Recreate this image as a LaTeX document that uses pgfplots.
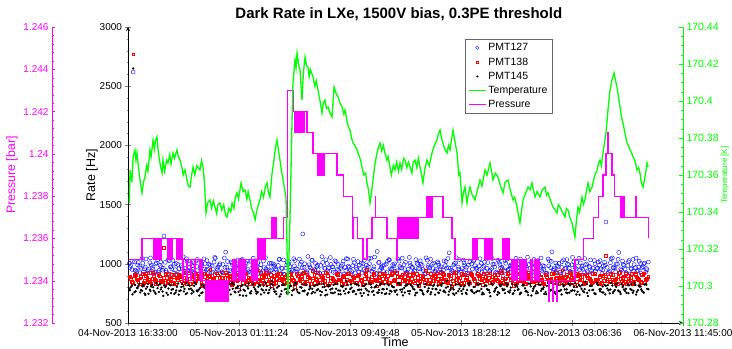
\documentclass[border=0pt]{standalone}
\usepackage{fontspec}
\setmainfont{Liberation Sans}
\usepackage{pgfplots}
\pgfplotsset{compat=1.18}
\usepackage{pgfplotstable}
\definecolor{mgreen}{RGB}{0,255,0}
\definecolor{mmag}{RGB}{255,0,255}
\definecolor{mblue}{RGB}{0,0,255}
\definecolor{mred}{RGB}{255,0,0}

\pgfplotstableread{
h b r k
0.2 985 872 801
0.4 2620 2770 2650
0.6 941 905 768
0.8 1012 851 812
1.0 963 889 779
1.2 928 842 825
1.4 1041 917 790
1.6 952 868 746
1.8 990 830 808
2.0 917 899 773
2.2 1008 861 836
2.4 944 921 762
2.6 975 847 799
2.8 1235 1135 817
3.0 931 884 754
3.2 1026 856 828
3.4 958 910 781
3.6 997 839 745
3.8 912 878 806
4.0 1053 902 771
4.2 969 853 830
4.4 936 926 788
4.6 1019 866 752
4.8 947 835 815
5.0 984 896 776
5.2 925 858 841
5.4 1037 914 767
5.6 961 874 795
5.8 903 812 759
6.0 1002 891 822
6.2 955 847 784
6.4 989 948 728
6.6 930 869 809
6.8 1046 838 772
7.0 972 903 833
7.2 918 855 790
7.4 994 881 756
7.6 1098 927 818
7.8 943 845 777
8.0 1016 893 741
8.2 950 862 826
8.4 982 908 794
8.6 921 806 763
8.8 1031 876 811
9.0 964 919 780
9.2 999 850 731
9.4 934 887 835
9.6 1022 868 769
9.8 957 831 802
10.0 985 952 748
10.2 915 857 824
10.4 1048 894 786
10.6 968 841 757
10.8 937 923 812
11.0 1005 863 779
11.2 948 814 853
11.4 992 899 765
11.6 926 871 799
11.8 1039 916 724
12.0 960 852 821
12.2 909 884 783
12.4 1011 838 747
12.6 976 907 815
12.8 941 866 774
13.0 1027 809 838
13.2 953 895 761
13.4 996 858 803
13.6 1252 920 770
13.8 929 847 827
14.0 1062 889 752
14.2 966 835 796
14.4 938 941 764
14.6 1003 873 819
14.8 951 844 785
15.0 987 904 736
15.2 919 861 831
15.4 1034 926 777
15.6 962 819 808
15.8 995 882 756
16.0 927 855 822
16.2 1018 915 789
16.4 946 869 743
16.6 981 832 812
16.8 913 898 771
17.0 1044 864 856
17.2 970 921 760
17.4 935 848 798
17.6 1009 886 768
17.8 956 837 825
18.0 990 909 782
18.2 922 859 729
18.4 1029 877 814
18.6 963 952 776
18.8 1001 843 840
19.0 931 893 763
19.2 1057 866 801
19.4 1104 810 757
19.6 949 913 819
19.8 983 872 786
20.0 916 851 745
20.2 1021 901 828
20.4 958 840 773
20.6 993 924 806
20.8 936 867 762
21.0 1040 833 834
21.2 967 890 781
21.4 907 856 733
21.6 1013 918 816
21.8 954 874 769
22.0 986 846 823
22.2 924 905 788
22.4 1035 862 755
22.6 961 818 810
22.8 998 897 778
23.0 940 869 742
23.2 1050 945 829
23.4 972 843 794
23.6 918 886 760
23.8 1007 858 820
24.0 952 920 785
24.2 988 835 753
24.4 929 879 813
24.6 1025 908 774
24.8 965 851 857
25.0 1093 896 766
25.2 944 808 800
25.4 1002 925 738
25.6 933 864 826
25.8 1036 881 789
26.0 959 842 747
26.2 991 912 815
26.4 920 870 779
26.6 1016 836 842
26.8 955 901 764
27.0 984 859 805
27.2 911 917 771
27.4 1043 875 831
27.6 969 822 756
27.8 937 894 818
28.0 1010 862 782
28.2 948 921 726
28.4 996 849 824
28.6 925 887 790
28.8 1030 856 761
29.0 964 940 811
29.2 903 840 777
29.4 1004 878 838
29.6 953 923 765
29.8 989 861 799
30.0 932 814 751
30.2 1047 899 827
30.4 971 868 786
30.6 939 911 755
30.8 1012 845 817
31.0 957 883 772
31.2 994 927 833
31.4 917 852 732
31.6 1038 873 804
31.8 962 837 768
32.0 1000 906 822
32.2 943 864 788
32.4 979 829 746
32.6 921 892 813
32.8 1026 870 779
33.0 1101 918 840
33.2 950 848 762
33.4 985 885 803
33.6 928 857 770
33.8 1019 946 826
34.0 960 839 784
34.2 997 876 752
34.4 935 922 818
34.6 1054 863 776
34.8 968 811 835
35.0 914 897 764
35.2 1008 866 809
35.4 954 912 771
35.6 992 843 848
35.8 926 880 728
36.0 1033 854 815
36.2 963 919 781
36.4 940 868 744
36.6 1015 836 823
36.8 957 903 787
37.0 983 860 757
37.2 1353 1067 814
37.4 930 888 775
37.6 1042 916 839
37.8 966 846 766
38.0 999 877 806
38.2 1096 924 769
38.4 945 853 827
38.6 988 895 783
38.8 923 834 754
39.0 1028 871 817
39.2 956 915 779
39.4 993 849 841
39.6 938 886 763
39.8 1021 862 808
40.0 965 907 772
40.2 1006 841 825
40.4 949 879 789
}\ratetable

\pgfplotstableread{
h b r k
0.1 1003 887 784
0.3 952 846 815
0.5 1018 901 760
0.7 936 869 797
0.9 977 828 832
1.1 1045 914 772
1.3 958 857 749
1.5 921 883 806
1.7 1009 845 781
1.9 969 928 823
2.1 930 866 758
2.3 1035 837 794
2.5 987 895 827
2.7 946 860 766
2.9 1012 919 803
3.1 905 848 739
3.3 973 876 818
3.5 1029 833 786
3.7 951 907 757
3.9 994 864 834
4.1 927 889 775
4.3 1058 842 809
4.5 964 923 744
4.7 1001 871 821
4.9 939 829 790
5.1 983 910 763
5.3 1024 855 829
5.5 916 887 781
5.7 970 840 752
5.9 1042 918 812
6.1 948 861 773
6.3 997 897 836
6.5 925 833 760
6.7 1015 879 802
6.9 960 921 747
7.1 989 851 825
7.3 933 885 787
7.5 1049 839 756
7.7 971 911 818
7.9 910 868 779
8.1 1006 826 840
8.3 957 903 764
8.5 993 857 800
8.7 941 891 735
8.9 1037 843 819
9.1 966 916 772
9.3 919 862 808
9.5 1021 835 754
9.7 978 900 830
9.9 945 873 785
10.1 1011 848 761
10.3 962 925 816
10.5 932 856 776
10.7 1052 888 838
10.9 974 831 751
11.1 939 906 797
11.3 1000 867 823
11.5 955 841 766
11.7 986 914 810
11.9 918 878 742
12.1 1033 850 827
12.3 965 894 788
12.5 998 827 758
12.7 927 917 813
12.9 1043 860 780
13.1 959 839 835
13.3 914 899 755
13.5 1014 876 799
13.7 970 922 768
13.9 935 853 822
14.1 992 884 784
14.3 1030 830 750
14.5 949 908 812
14.7 978 868 776
14.9 920 843 833
15.1 1060 896 762
15.3 963 859 805
15.5 1002 920 740
15.7 937 836 817
15.9 975 880 791
16.1 1026 852 758
16.3 953 911 829
16.5 912 863 773
16.7 995 887 806
16.9 968 834 748
17.1 1040 917 821
17.3 947 855 786
17.5 985 895 763
17.7 923 840 831
17.9 1019 902 779
18.1 960 868 752
18.3 1001 826 815
18.5 940 919 790
18.7 976 877 737
18.9 1048 848 825
19.1 955 906 771
19.3 917 862 809
19.5 1010 885 757
19.7 971 838 834
19.9 934 914 785
20.1 997 870 750
20.3 1036 845 819
20.5 951 903 766
20.7 982 858 802
20.9 924 926 778
21.1 1022 834 839
21.3 963 892 761
21.5 993 866 797
21.7 929 847 818
21.9 1054 909 746
22.1 970 873 811
22.3 942 836 783
22.5 1004 918 756
22.7 958 860 828
22.9 987 889 772
23.1 915 842 805
23.3 1031 921 764
23.5 966 865 821
23.7 998 831 788
23.9 939 900 740
24.1 1017 874 815
24.3 957 850 777
24.5 921 913 834
24.7 984 867 759
24.9 1045 840 807
25.1 962 896 782
25.3 935 857 749
25.5 1008 924 826
25.7 973 878 769
25.9 926 835 812
26.1 1032 905 786
26.3 950 863 755
26.5 990 842 832
26.7 919 917 775
26.9 1024 871 804
27.1 964 829 761
27.3 943 898 823
27.5 1005 861 787
27.7 978 919 744
27.9 916 853 815
28.1 1050 884 778
28.3 960 838 836
28.5 996 910 765
28.7 931 869 800
28.9 1013 846 753
29.1 971 923 824
29.3 940 875 783
29.5 1039 833 810
29.7 955 902 757
29.9 988 858 829
30.1 922 887 774
30.3 1020 841 806
30.5 967 916 743
30.7 1000 866 818
30.9 937 832 792
31.1 1056 895 760
31.3 962 871 831
31.5 929 848 771
31.7 991 921 813
31.9 1027 857 754
32.1 952 883 822
32.3 984 836 786
32.5 918 907 762
32.7 1041 869 838
32.9 968 845 775
33.1 945 914 803
33.3 1006 878 748
33.5 975 830 827
33.7 913 900 780
33.9 1034 861 810
34.1 961 893 757
34.3 993 840 833
34.5 930 918 772
34.7 1016 874 806
34.9 957 851 741
35.1 1047 909 820
35.3 966 864 789
35.5 924 833 760
35.7 999 902 828
35.9 978 879 776
36.1 941 843 814
36.3 1028 919 752
36.5 958 860 837
36.7 989 889 784
36.9 920 837 759
37.1 1012 912 822
37.3 970 870 791
37.5 935 846 750
37.7 1050 905 817
37.9 963 867 779
38.1 996 832 835
38.3 927 923 762
38.5 1023 881 804
38.7 954 850 770
38.9 985 897 826
39.1 916 861 787
39.3 1037 835 756
39.5 969 914 821
39.7 944 873 778
39.9 1003 842 809
40.1 976 908 761
40.3 931 866 830
40.5 1015 889 785
}\ratetableb

\pgfplotstableread{
h b r k
0.15 968 893 776
0.35 1021 838 742
0.55 947 912 821
0.75 990 861 795
0.95 924 879 758
1.15 1006 822 809
1.35 972 897 737
1.55 939 850 830
1.75 1050 926 770
1.95 955 871 802
2.15 998 829 747
2.35 931 904 818
2.55 1015 858 783
2.75 962 882 729
2.95 944 840 813
3.15 1038 917 791
3.35 976 866 752
3.55 919 894 826
3.75 1003 827 775
3.95 958 909 740
4.15 985 853 804
4.35 927 880 767
4.55 1043 834 837
4.75 967 921 786
4.95 941 869 749
5.15 1010 846 815
5.35 978 901 774
5.55 913 878 732
5.75 995 823 823
5.95 956 915 796
6.15 1027 860 759
6.35 935 888 811
6.55 982 837 745
6.75 1054 906 828
6.95 949 851 780
7.15 1001 883 754
7.35 926 925 816
7.55 969 845 772
7.75 1019 872 739
7.95 942 898 825
8.15 987 832 789
8.35 961 916 758
8.55 1032 864 808
8.75 915 887 776
8.95 976 839 731
9.15 1008 920 820
9.35 953 855 792
9.55 929 876 750
9.75 1047 830 829
9.95 970 908 768
10.15 938 869 806
10.35 993 843 741
10.55 1024 896 815
10.75 957 924 779
10.95 921 852 755
11.15 1004 874 831
11.35 979 835 786
11.55 946 911 745
11.75 1036 862 812
11.95 963 890 770
12.15 911 828 823
12.35 990 905 759
12.55 1017 859 797
12.75 948 881 736
12.95 983 842 818
13.15 932 918 781
13.35 1040 867 753
13.55 966 893 827
13.75 1000 831 774
13.95 922 909 740
14.15 975 856 810
14.35 1029 879 788
14.55 951 838 757
14.75 989 922 821
14.95 917 863 769
15.15 1011 886 803
15.35 961 826 733
15.55 940 902 819
15.75 1053 858 783
15.95 972 876 751
16.15 928 841 830
16.35 997 914 775
16.55 960 868 742
16.75 1022 892 813
16.95 944 833 789
17.15 981 919 756
17.35 915 861 825
17.55 1038 883 771
17.75 969 845 744
17.95 930 904 816
18.15 1005 866 782
18.35 952 827 752
18.55 987 910 829
18.75 1044 873 766
18.95 938 848 801
19.15 976 921 737
19.35 918 858 818
19.55 1013 887 779
19.75 964 836 755
19.95 991 901 827
20.15 926 870 788
20.35 1031 842 746
20.55 957 917 811
20.75 1000 864 772
20.95 941 889 740
21.15 978 830 822
21.35 1048 908 784
21.55 950 853 757
21.75 921 880 826
21.95 1007 837 769
22.15 969 920 805
22.35 935 861 735
22.55 994 884 819
22.75 1025 846 780
22.95 954 902 751
23.15 913 868 830
23.35 986 832 774
23.55 1039 915 744
23.75 960 857 814
23.95 932 891 787
24.15 1003 839 756
24.35 975 923 823
24.55 945 870 767
24.75 1018 848 799
24.95 966 906 738
25.15 925 876 820
25.35 990 829 783
25.55 1051 897 753
25.75 956 860 828
25.95 940 918 771
26.15 1009 840 808
26.35 971 882 745
26.55 917 851 817
26.75 998 911 778
26.95 1032 869 752
27.15 951 833 831
27.35 984 903 770
27.55 928 877 742
27.75 1014 855 812
27.95 962 920 785
28.15 937 838 757
28.35 1045 889 824
28.55 973 862 773
28.75 920 906 739
28.95 995 843 819
29.15 958 879 788
29.35 1026 828 752
29.55 947 913 827
29.75 980 867 776
29.95 914 893 746
30.15 1002 835 815
30.35 967 919 781
30.55 1040 856 755
30.75 943 884 823
30.95 989 830 768
31.15 923 907 736
31.35 1012 871 810
31.55 965 847 789
31.75 936 917 750
31.95 997 863 828
32.15 1049 888 772
32.35 953 831 802
32.55 918 909 744
32.75 983 858 816
32.95 1020 876 780
33.15 959 840 753
33.35 934 922 826
33.55 1004 866 770
33.75 970 887 741
33.95 916 834 818
34.15 1035 905 784
34.35 961 850 757
34.55 992 880 829
34.75 927 827 773
34.95 1011 916 806
35.15 950 862 738
35.35 980 891 821
35.55 1044 838 786
35.75 939 908 754
35.95 973 873 814
36.15 921 845 779
36.35 1000 921 748
36.55 963 869 825
36.75 1027 832 768
36.95 946 900 809
37.15 988 878 742
37.35 919 853 820
37.55 1009 914 783
37.75 969 864 755
37.95 933 833 828
38.15 1038 894 774
38.35 957 871 745
38.55 994 842 813
38.75 925 918 789
38.95 1016 860 752
39.15 962 885 826
39.35 941 837 771
39.55 1048 906 740
39.75 972 868 817
39.95 918 849 784
40.15 999 920 756
40.35 960 874 822
}\ratetablec

\pgfplotsset{
  common/.style={
    at={(0,0)}, anchor=south west,
    scale only axis, width=555bp, height=296bp,
    xmin=0, xmax=43.2,
    /pgf/number format/assume math mode=true,
    tick align=inside,
    major tick length=5bp, minor tick length=2.5bp,
    axis line style={-, line width=0.8bp},
    ticklabel style={font=\fontsize{10bp}{12bp}\selectfont},
    scaled y ticks=false,
  },
  bluemk/.style={only marks, mark=o, mblue, mark size=2bp, mark options={line width=0.4bp}},
  redmk/.style={only marks, mark=square, mred, mark size=1.4bp, mark options={line width=0.45bp}},
  blackmk/.style={only marks, mark=*, black, mark size=0.95bp},
}

\begin{document}
\begin{tikzpicture}
% Rate axis
\begin{axis}[common,
  axis x line=bottom, axis y line=left,
  ymin=500, ymax=3000,
  ytick={500,1000,1500,2000,2500,3000}, minor y tick num=4,
  xtick={0,8.64,17.28,25.92,34.56,43.2}, minor x tick num=4,
  xticklabels={04-Nov-2013 16:33:00, 05-Nov-2013 01:11:24, 05-Nov-2013 09:49:48, 05-Nov-2013 18:28:12, 06-Nov-2013 03:06:36, 06-Nov-2013 11:45:00},
  yticklabel style={/pgf/number format/1000 sep={}},
  xlabel={Time},
  xlabel style={at={(axis description cs:0.481,-0.064)}, anchor=center, font=\fontsize{12.5bp}{14bp}\selectfont},
  ylabel={Rate [Hz]},
  ylabel style={at={(axis description cs:-0.065,0.5)}, anchor=center, font=\fontsize{12.5bp}{14bp}\selectfont},
  title={Dark Rate in LXe, 1500V bias, 0.3PE threshold},
  title style={at={(axis description cs:0.488,1.024)}, anchor=center, yshift=0pt, font=\bfseries\fontsize{15bp}{17bp}\selectfont},
]
\addplot[bluemk] table[x=h,y=b]{\ratetable};
\addplot[bluemk] table[x=h,y=b]{\ratetableb};
\addplot[bluemk] table[x=h,y=b]{\ratetablec};
\addplot[redmk] table[x=h,y=r]{\ratetable};
\addplot[redmk] table[x=h,y=r]{\ratetableb};
\addplot[redmk] table[x=h,y=r]{\ratetablec};
\addplot[blackmk] table[x=h,y=k]{\ratetable};
\addplot[blackmk] table[x=h,y=k]{\ratetableb};
\addplot[blackmk] table[x=h,y=k]{\ratetablec};
\end{axis}

% Pressure data
\begin{axis}[common, hide axis, ymin=1.232, ymax=1.246]
\addplot[const plot, mmag, line width=1.1bp] coordinates {
(0.10,1.235)(1.09,1.236)
(1.95,1.235)(2.02,1.236)(2.09,1.235)(2.16,1.236)(2.23,1.235)(2.30,1.236)(2.37,1.235)(2.44,1.236)(2.51,1.235)(2.58,1.236)
(3.10,1.235)(3.17,1.236)(3.24,1.235)(3.31,1.236)(3.38,1.235)(3.45,1.236)
(3.80,1.235)(3.87,1.236)(3.94,1.235)(4.01,1.236)(4.08,1.235)(4.14,1.236)
(4.20,1.235)(4.28,1.234)(4.33,1.235)(4.59,1.234)(4.64,1.235)(4.90,1.234)(4.95,1.235)(5.20,1.234)(5.25,1.235)(5.60,1.234)(5.65,1.235)
(5.76,1.234)
(6.00,1.233)(6.07,1.234)(6.14,1.233)(6.21,1.234)(6.28,1.233)(6.35,1.234)(6.42,1.233)(6.49,1.234)(6.56,1.233)(6.63,1.234)(6.70,1.233)(6.77,1.234)(6.84,1.233)(6.91,1.234)(6.98,1.233)(7.05,1.234)(7.12,1.233)(7.19,1.234)(7.26,1.233)(7.33,1.234)(7.40,1.233)(7.47,1.234)(7.54,1.233)(7.61,1.234)(7.68,1.233)
(7.78,1.234)
(8.17,1.235)(8.27,1.234)(8.37,1.235)(8.47,1.234)(8.57,1.235)(8.67,1.234)(8.77,1.235)(8.87,1.234)(8.97,1.235)(9.04,1.234)
(9.11,1.235)
(9.65,1.234)(9.73,1.235)(9.81,1.234)(9.89,1.235)(9.97,1.234)(10.05,1.235)
(10.12,1.236)(10.18,1.235)(10.24,1.236)(10.30,1.235)(10.36,1.236)(10.42,1.235)(10.48,1.236)(10.54,1.235)(10.60,1.236)(10.66,1.235)(10.72,1.236)
(11.20,1.237)(11.27,1.236)(11.34,1.237)(11.41,1.236)(11.48,1.237)(11.55,1.236)
(12.07,1.237)(12.38,1.243)(12.84,1.242)
(13.00,1.241)(13.07,1.242)(13.14,1.241)(13.21,1.242)(13.28,1.241)(13.35,1.242)(13.42,1.241)(13.49,1.242)(13.56,1.241)(13.63,1.242)(13.70,1.241)(13.77,1.242)
(13.93,1.241)(14.40,1.240)
(14.79,1.239)(14.85,1.240)(14.91,1.239)(14.97,1.240)(15.03,1.239)(15.09,1.240)(15.15,1.239)(15.21,1.240)(15.27,1.239)(15.33,1.240)
(16.27,1.239)(16.74,1.238)(17.44,1.237)(17.51,1.236)(17.56,1.237)
(17.83,1.236)(18.29,1.235)(18.60,1.236)(18.99,1.237)(19.23,1.238)(19.28,1.237)
(20.16,1.236)(20.88,1.235)(20.94,1.236)
(21.00,1.237)(21.08,1.236)(21.16,1.237)(21.24,1.236)(21.32,1.237)(21.40,1.236)(21.48,1.237)(21.56,1.236)(21.64,1.237)(21.72,1.236)(21.80,1.237)(21.88,1.236)(21.96,1.237)(22.04,1.236)(22.12,1.237)(22.20,1.236)(22.28,1.237)(22.36,1.236)(22.44,1.237)(22.50,1.236)
(22.57,1.237)
(23.27,1.238)(23.34,1.237)(23.41,1.238)(23.48,1.237)(23.55,1.238)(23.62,1.237)(23.68,1.238)
(24.52,1.237)(25.22,1.236)(25.45,1.235)
(26.78,1.236)(26.85,1.235)(26.92,1.236)(26.99,1.235)(27.06,1.236)(27.12,1.235)
(27.17,1.236)
(27.79,1.235)(27.86,1.236)(27.93,1.235)(28.00,1.236)(28.07,1.235)(28.14,1.236)(28.21,1.235)(28.27,1.236)
(28.33,1.235)
(29.19,1.236)(29.26,1.235)(29.33,1.236)(29.40,1.235)(29.47,1.236)(29.54,1.235)(29.60,1.236)
(29.66,1.235)(29.89,1.234)
(29.97,1.235)(30.04,1.234)(30.11,1.235)(30.18,1.234)(30.25,1.235)(30.32,1.234)
(30.51,1.235)(30.58,1.234)(30.65,1.235)(30.72,1.234)(30.79,1.235)(30.86,1.234)(30.93,1.235)(31.00,1.234)
(31.30,1.235)(31.37,1.234)(31.44,1.235)(31.50,1.234)
(31.68,1.235)(31.75,1.234)(31.82,1.235)(31.89,1.234)(31.96,1.235)(32.03,1.234)
(32.77,1.233)(32.82,1.234)(33.08,1.233)(33.13,1.234)(33.39,1.233)(33.44,1.234)
(34.79,1.235)(35.42,1.236)(36.20,1.237)(36.59,1.238)(36.97,1.239)(37.21,1.240)(37.36,1.241)(37.41,1.240)
(37.67,1.239)(37.90,1.238)
(38.30,1.237)(38.36,1.238)(38.42,1.237)(38.48,1.238)(38.54,1.237)(38.60,1.238)(38.65,1.237)
(38.69,1.237)(39.54,1.238)(39.59,1.237)(40.48,1.236)
};
\end{axis}

% Pressure axis (outer left)
\begin{axis}[common, at={(-76bp,0)},
  axis y line*=left, axis x line=none,
  ymin=1.232, ymax=1.246,
  ytick={1.232,1.234,1.236,1.238,1.24,1.242,1.244,1.246}, minor y tick num=4,
  major tick length=3.5bp, minor tick length=2bp,
  y axis line style={mmag},
  ytick style={mmag}, minor y tick style={mmag},
  yticklabel style={mmag, /pgf/number format/precision=3},
  ylabel={Pressure [bar]},
  ylabel style={at={(axis description cs:-0.072,0.5)}, anchor=center, mmag, font=\fontsize{12.3bp}{14bp}\selectfont},
]
\end{axis}

% Temperature axis
\begin{axis}[common,
  axis y line*=right, axis x line=none,
  ymin=170.28, ymax=170.44,
  ytick={170.28,170.3,170.32,170.34,170.36,170.38,170.4,170.42,170.44}, minor y tick num=3,
  major tick length=4bp, minor tick length=2bp,
  y axis line style={mgreen},
  ytick style={mgreen}, minor y tick style={mgreen},
  yticklabel style={mgreen, /pgf/number format/precision=2, font=\fontsize{10.5bp}{12bp}\selectfont},
  ylabel={Temperature [K]},
  ylabel style={at={(axis description cs:1.0757,0.5)}, anchor=center, mgreen, font=\fontsize{8bp}{9bp}\selectfont},
  legend entries={PMT127,PMT138,PMT145,Temperature,Pressure},
  legend style={at={(axis description cs:0.607,0.959)}, anchor=north west, font=\fontsize{10.5bp}{12bp}\selectfont, draw=black!60, line width=0.6bp, fill=white, cells={anchor=west}, row sep=1.5bp},
]
\addlegendimage{only marks, mark=o, mblue, mark size=1.7bp, mark options={line width=0.4bp}}
\addlegendimage{only marks, mark=square, mred, mark size=1.2bp, mark options={line width=0.4bp}}
\addlegendimage{only marks, mark=*, black, mark size=0.7bp}
\addplot[mgreen, line width=1.3bp] coordinates {
(0.10,170.3449)(0.16,170.3627)(0.30,170.3560)(0.40,170.3700)(0.54,170.3735)(0.62,170.3680)(0.70,170.3720)(0.78,170.3665)
(0.90,170.3590)(1.00,170.3540)(1.09,170.3503)(1.20,170.3560)(1.32,170.3589)(1.45,170.3650)(1.55,170.3620)(1.71,170.3735)
(1.80,170.3700)(1.95,170.3789)(2.05,170.3740)(2.15,170.3790)(2.26,170.3805)(2.34,170.3735)(2.45,170.3680)(2.55,170.3640)
(2.65,170.3611)(2.72,170.3681)(2.85,170.3620)(3.00,170.3680)(3.11,170.3665)(3.25,170.3710)(3.35,170.3660)(3.50,170.3719)
(3.62,170.3690)(3.81,170.3735)(3.92,170.3700)(4.05,170.3681)(4.20,170.3640)(4.30,170.3600)(4.44,170.3627)(4.60,170.3570)
(4.70,170.3540)(4.83,170.3535)(4.95,170.3600)(5.06,170.3643)(5.20,170.3600)(5.35,170.3650)(5.60,170.3627)(5.72,170.3680)
(5.84,170.3643)(5.95,170.3560)(6.07,170.3395)(6.20,170.3450)(6.38,170.3465)(6.50,170.3420)(6.65,170.3460)(6.77,170.3427)
(6.90,170.3390)(7.00,170.3440)(7.16,170.3449)(7.30,170.3410)(7.45,170.3440)(7.60,170.3380)(7.71,170.3373)(7.85,170.3420)
(8.00,170.3400)(8.10,170.3449)(8.25,170.3420)(8.35,170.3480)(8.48,170.3503)(8.60,170.3470)(8.80,170.3557)(8.95,170.3510)
(9.11,170.3519)(9.25,170.3470)(9.35,170.3510)(9.50,170.3465)(9.62,170.3420)(9.75,170.3400)(9.89,170.3357)(10.00,170.3400)
(10.15,170.3440)(10.27,170.3465)(10.40,170.3510)(10.55,170.3480)(10.70,170.3540)(10.82,170.3557)(10.95,170.3500)(11.05,170.3481)
(11.20,170.3600)(11.36,170.3681)(11.48,170.3750)(11.60,170.3789)(11.70,170.3740)(11.83,170.3681)(11.95,170.3620)(12.07,170.3573)
(12.20,170.3520)(12.30,170.3481)(12.45,170.2951)(12.62,170.3400)(12.77,170.3897)(12.84,170.4097)(13.00,170.4222)(13.08,170.4180)
(13.16,170.4259)(13.28,170.4200)(13.39,170.4168)(13.54,170.4005)(13.65,170.4150)(13.78,170.4238)(13.90,170.4190)(14.01,170.4184)
(14.10,170.4130)(14.20,170.4170)(14.40,170.4130)(14.55,170.4080)(14.65,170.4110)(14.79,170.4059)(14.95,170.4000)(15.10,170.3935)
(15.20,170.3990)(15.33,170.4005)(15.45,170.3960)(15.57,170.3968)(15.70,170.3940)(15.88,170.3914)(16.04,170.4076)(16.20,170.4040)
(16.35,170.4022)(16.50,170.3990)(16.66,170.3968)(16.80,170.3930)(16.89,170.3951)(17.05,170.3890)(17.15,170.3860)(17.28,170.3843)
(17.40,170.3800)(17.51,170.3773)(17.65,170.3760)(17.83,170.3735)(18.00,170.3700)(18.10,170.3680)(18.21,170.3643)(18.35,170.3600)
(18.50,170.3610)(18.60,170.3557)(18.72,170.3520)(18.84,170.3449)(18.95,170.3500)(19.07,170.3573)(19.20,170.3650)(19.38,170.3719)
(19.50,170.3750)(19.62,170.3773)(19.75,170.3730)(19.88,170.3760)(20.00,170.3719)(20.15,170.3680)(20.25,170.3700)(20.39,170.3643)
(20.50,170.3600)(20.65,170.3650)(20.78,170.3627)(20.90,170.3670)(21.05,170.3620)(21.17,170.3665)(21.30,170.3630)(21.45,170.3690)
(21.56,170.3681)(21.70,170.3640)(21.82,170.3670)(21.95,170.3643)(22.10,170.3610)(22.20,170.3670)(22.34,170.3681)(22.48,170.3640)
(22.60,170.3690)(22.73,170.3643)(22.85,170.3600)(22.96,170.3557)(23.10,170.3630)(23.27,170.3681)(23.45,170.3650)(23.66,170.3719)
(23.85,170.3760)(24.05,170.3789)(24.15,170.3820)(24.29,170.3843)(24.40,170.3800)(24.52,170.3773)(24.65,170.3740)(24.83,170.3719)
(24.95,170.3760)(25.06,170.3735)(25.20,170.3800)(25.30,170.3843)(25.45,170.3780)(25.61,170.3719)(25.75,170.3600)(25.84,170.3611)
(26.00,170.3449)(26.10,170.3500)(26.23,170.3535)(26.39,170.3449)(26.50,170.3500)(26.62,170.3535)(26.80,170.3490)(27.01,170.3465)
(27.20,170.3520)(27.40,170.3573)(27.55,170.3540)(27.79,170.3627)(27.95,170.3600)(28.18,170.3665)(28.30,170.3620)(28.41,170.3573)
(28.60,170.3610)(28.80,170.3589)(29.00,170.3540)(29.19,170.3503)(29.35,170.3560)(29.58,170.3573)(29.75,170.3520)(29.97,170.3465)
(30.10,170.3480)(30.28,170.3427)(30.40,170.3380)(30.51,170.3341)(30.62,170.3400)(30.75,170.3465)(30.95,170.3500)(31.14,170.3535)
(31.30,170.3520)(31.45,170.3557)(31.55,170.3520)(31.68,170.3481)(31.85,170.3510)(32.07,170.3481)(32.25,170.3520)(32.46,170.3535)
(32.58,170.3490)(32.69,170.3503)(32.90,170.3460)(33.08,170.3427)(33.25,170.3410)(33.39,170.3395)(33.50,170.3440)(33.63,170.3427)
(33.80,170.3400)(34.02,170.3373)(34.12,170.3420)(34.25,170.3411)(34.40,170.3370)(34.56,170.3341)(34.68,170.3300)(34.79,170.3265)
(34.90,170.3350)(35.03,170.3427)(35.15,170.3400)(35.34,170.3481)(35.45,170.3440)(35.57,170.3465)(35.70,170.3520)(35.81,170.3557)
(35.95,170.3510)(36.12,170.3535)(36.30,170.3590)(36.51,170.3627)(36.62,170.3660)(36.74,170.3681)(36.85,170.3650)(36.97,170.3719)
(37.10,170.3780)(37.21,170.3827)(37.36,170.3951)(37.50,170.4050)(37.67,170.4114)(37.83,170.4151)(37.95,170.4110)(38.06,170.4076)
(38.18,170.4020)(38.30,170.3968)(38.42,170.3910)(38.53,170.3881)(38.70,170.3820)(38.84,170.3773)(38.95,170.3760)(39.08,170.3735)
(39.20,170.3720)(39.31,170.3697)(39.45,170.3680)(39.62,170.3627)(39.75,170.3640)(39.85,170.3611)(39.95,170.3560)(40.09,170.3535)
(40.24,170.3589)(40.40,170.3665)(40.48,170.3643)
};
\addlegendimage{mmag, line width=1.1bp}
\end{axis}
\pgfresetboundingbox
\path[use as bounding box] (-128bp,-26bp) rectangle (604bp,323bp);
\end{tikzpicture}
\end{document}
